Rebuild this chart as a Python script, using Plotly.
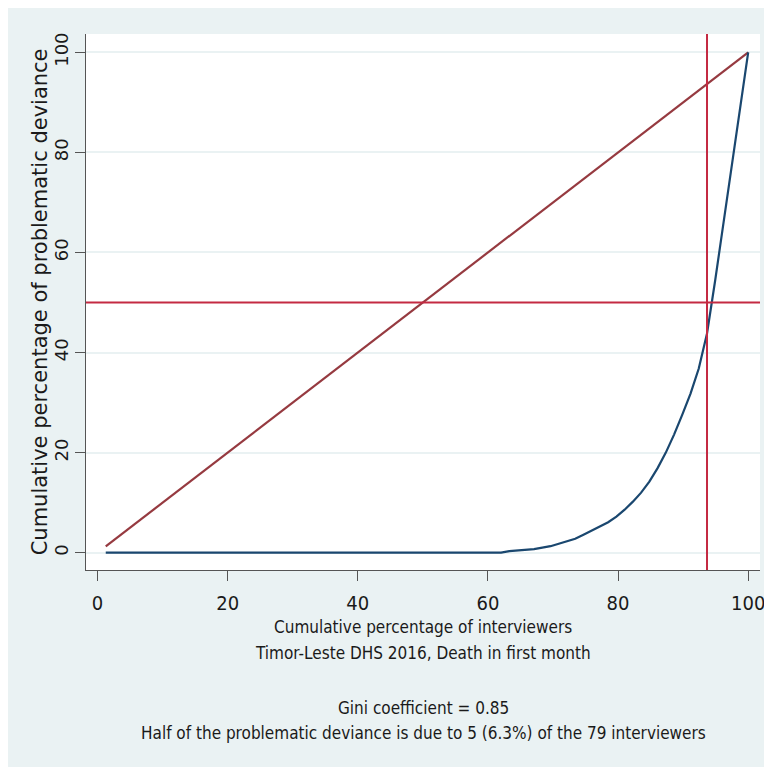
import plotly.graph_objects as go

# ---- data ----
n_interviewers = 79
interviewer_idx = list(range(1, 80))
cum_pct_interviewers = [i / n_interviewers * 100 for i in interviewer_idx]
# cumulative % of problematic deviance (Lorenz curve)
cum_pct_deviance = [0.0] * 49 + [
    0.3, 0.4, 0.5, 0.7, 1.0, 1.3, 1.8, 2.3, 2.8, 3.6,
    4.4, 5.2, 6.1, 7.2, 8.6, 10.2, 12.0, 14.2, 16.9, 20.0,
    23.6, 27.6, 31.8, 36.8, 43.8, 54.5, 66.0, 77.5, 89.0, 100.0,
]
equality_line = cum_pct_interviewers
half_line_y = 50
cutoff_x = 74 / 79 * 100
x_ticks = [0, 20, 40, 60, 80, 100]
y_ticks = [0, 20, 40, 60, 80, 100]

x_title = "Cumulative percentage of interviewers"
subtitle = "Timor-Leste DHS 2016, Death in first month"
gini_text = "Gini coefficient = 0.85"
half_text = "Half of the problematic deviance is due to 5 (6.3%) of the 79 interviewers"
y_title = "Cumulative percentage of problematic deviance"

# ---- styling ----
OFF = 8  # browser body margin
W, H = 772 - OFF, 775 - 2 * OFF
# plot area in page pixels
PL, PR, PT, PB = 86, 765, 34, 570
L, R, T, B = PL - OFF, W - (PR - OFF), PT - OFF, H - (PB - OFF)
pw, ph = W - L - R, H - T - B
BG = "#EAF2F3"
NAVY = "#1A476F"
MAROON = "#963A40"
RED = "#C42A42"
NARROW = "DejaVu Sans Condensed, Liberation Sans Narrow, sans-serif"
WIDE = "DejaVu Sans, Liberation Sans, sans-serif"

fig = go.Figure()
fig.add_trace(go.Scatter(x=cum_pct_interviewers, y=equality_line, mode="lines",
                         line=dict(color=MAROON, width=2.2), showlegend=False))
fig.add_trace(go.Scatter(x=cum_pct_interviewers, y=cum_pct_deviance, mode="lines",
                         line=dict(color=NAVY, width=2.2), showlegend=False))

fig.add_hline(y=half_line_y, line=dict(color=RED, width=2))
fig.add_vline(x=cutoff_x, line=dict(color=RED, width=2))


def py(ypage):
    return (PB - ypage) / ph


def px(xpage):
    return (xpage - PL) / pw


annos = [
    (x_title, 627),
    (subtitle, 653),
    (gini_text, 708),
    (half_text, 733),
]
for txt, ypage in annos:
    fig.add_annotation(text=txt, xref="paper", yref="paper", x=px(425.5), y=py(ypage),
                       xanchor="center", yanchor="middle", showarrow=False,
                       font=dict(family=NARROW, size=17, color="#1a1a1a"))

fig.add_annotation(text=y_title, xref="paper", yref="paper", x=px(40), y=py(302),
                   xanchor="center", yanchor="middle", showarrow=False, textangle=-90,
                   font=dict(family=WIDE, size=21, color="#1a1a1a"))

x0_page, x_scale = 97.6, 6.555
y0_page, y_scale = 552.7, 5.004

fig.update_layout(
    width=W, height=H,
    margin=dict(l=L, r=R, t=T, b=B, pad=0),
    paper_bgcolor=BG, plot_bgcolor="white",
    xaxis=dict(range=[(PL - x0_page) / x_scale, (PR - x0_page) / x_scale], tickvals=x_ticks,
               showgrid=False, zeroline=False, showline=True, linecolor="#555", linewidth=1.3,
               ticks="outside", ticklen=10, tickcolor="#555", tickwidth=1.3,
               ticklabelstandoff=5, ticklabeloverflow="allow",
               tickfont=dict(family=NARROW, size=20, color="#1a1a1a")),
    yaxis=dict(range=[(y0_page - PB) / y_scale, (y0_page - PT) / y_scale], tickvals=y_ticks,
               showgrid=True, gridcolor=BG, gridwidth=1.5, zeroline=False,
               showline=True, linecolor="#555", linewidth=1.3,
               ticks="outside", ticklen=10, tickcolor="#555", tickwidth=1.3, tickangle=-90,
               tickfont=dict(family=WIDE, size=18, color="#1a1a1a")),
)

fig.write_html("out.html")
